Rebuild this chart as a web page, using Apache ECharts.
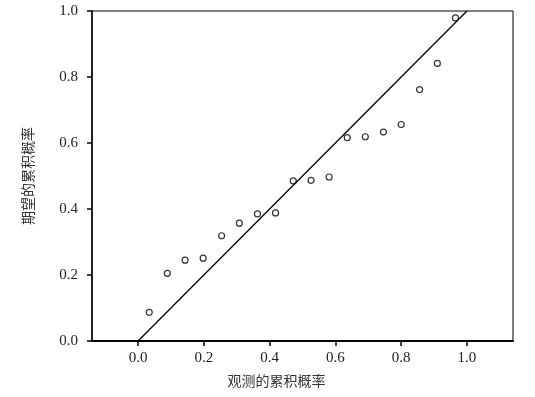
<!DOCTYPE html>
<html>
<head>
<meta charset="utf-8">
<script src="https://cdn.jsdelivr.net/npm/echarts@6/dist/echarts.min.js"></script>
<style>
  html, body { margin: 0; padding: 0; background: #fff; }
  #chart { width: 535px; height: 397px; }
</style>
</head>
<body>
<div id="chart"></div>
<script>
// P-P plot data: observed vs expected cumulative probability
const observed = [0.034, 0.089, 0.143, 0.198, 0.254, 0.308, 0.363, 0.418, 0.472,
  0.526, 0.581, 0.636, 0.691, 0.746, 0.800, 0.856, 0.910, 0.965];
const expected = [0.087, 0.205, 0.245, 0.251, 0.319, 0.357, 0.385, 0.388, 0.485,
  0.487, 0.497, 0.616, 0.619, 0.633, 0.656, 0.762, 0.841, 0.979];
const refLine = [[0, 0], [1, 1]];
const tickValues = [0, 0.2, 0.4, 0.6, 0.8, 1.0];

const serif = 'Liberation Serif';
const cjk = 'Noto Sans CJK SC';

const chart = echarts.init(document.getElementById('chart'));
chart.setOption({
  animation: false,
  grid: { left: 92, right: 22, top: 11, bottom: 56, show: true, borderColor: '#000', borderWidth: 1 },
  xAxis: {
    type: 'value',
    min: -0.14,
    max: 1.14,
    name: '观测的累积概率',
    nameLocation: 'middle',
    nameGap: 33,
    nameTextStyle: { fontFamily: cjk, fontSize: 14, color: '#333', padding: [0, 52, 0, 0] },
    splitLine: { show: false },
    axisLine: { onZero: false, lineStyle: { color: '#000', width: 1.8 } },
    axisTick: { customValues: tickValues, length: 5, lineStyle: { color: '#000', width: 1.5 } },
    axisLabel: {
      customValues: tickValues,
      margin: 10,
      fontFamily: serif, fontSize: 15, color: '#222',
      formatter: v => v.toFixed(1)
    }
  },
  yAxis: {
    type: 'value',
    min: 0,
    max: 1,
    interval: 0.2,
    name: '期望的累积概率',
    nameLocation: 'middle',
    nameGap: 57,
    nameTextStyle: { fontFamily: cjk, fontSize: 14, color: '#333' },
    splitLine: { show: false },
    axisLine: { show: true, onZero: false, lineStyle: { color: '#000', width: 1.5 } },
    axisTick: { show: true, length: 5, lineStyle: { color: '#000', width: 1.5 } },
    axisLabel: {
      margin: 14,
      fontFamily: serif, fontSize: 15, color: '#222',
      formatter: v => v.toFixed(1)
    }
  },
  series: [
    {
      type: 'line',
      data: refLine,
      symbol: 'none',
      clip: true,
      lineStyle: { color: '#000', width: 1.3 }
    },
    {
      type: 'scatter',
      data: observed.map((x, i) => [x, expected[i]]),
      symbol: 'circle',
      symbolSize: 6,
      itemStyle: { color: '#fff', borderColor: '#000', borderWidth: 1.2 }
    }
  ]
});
</script>
</body>
</html>
